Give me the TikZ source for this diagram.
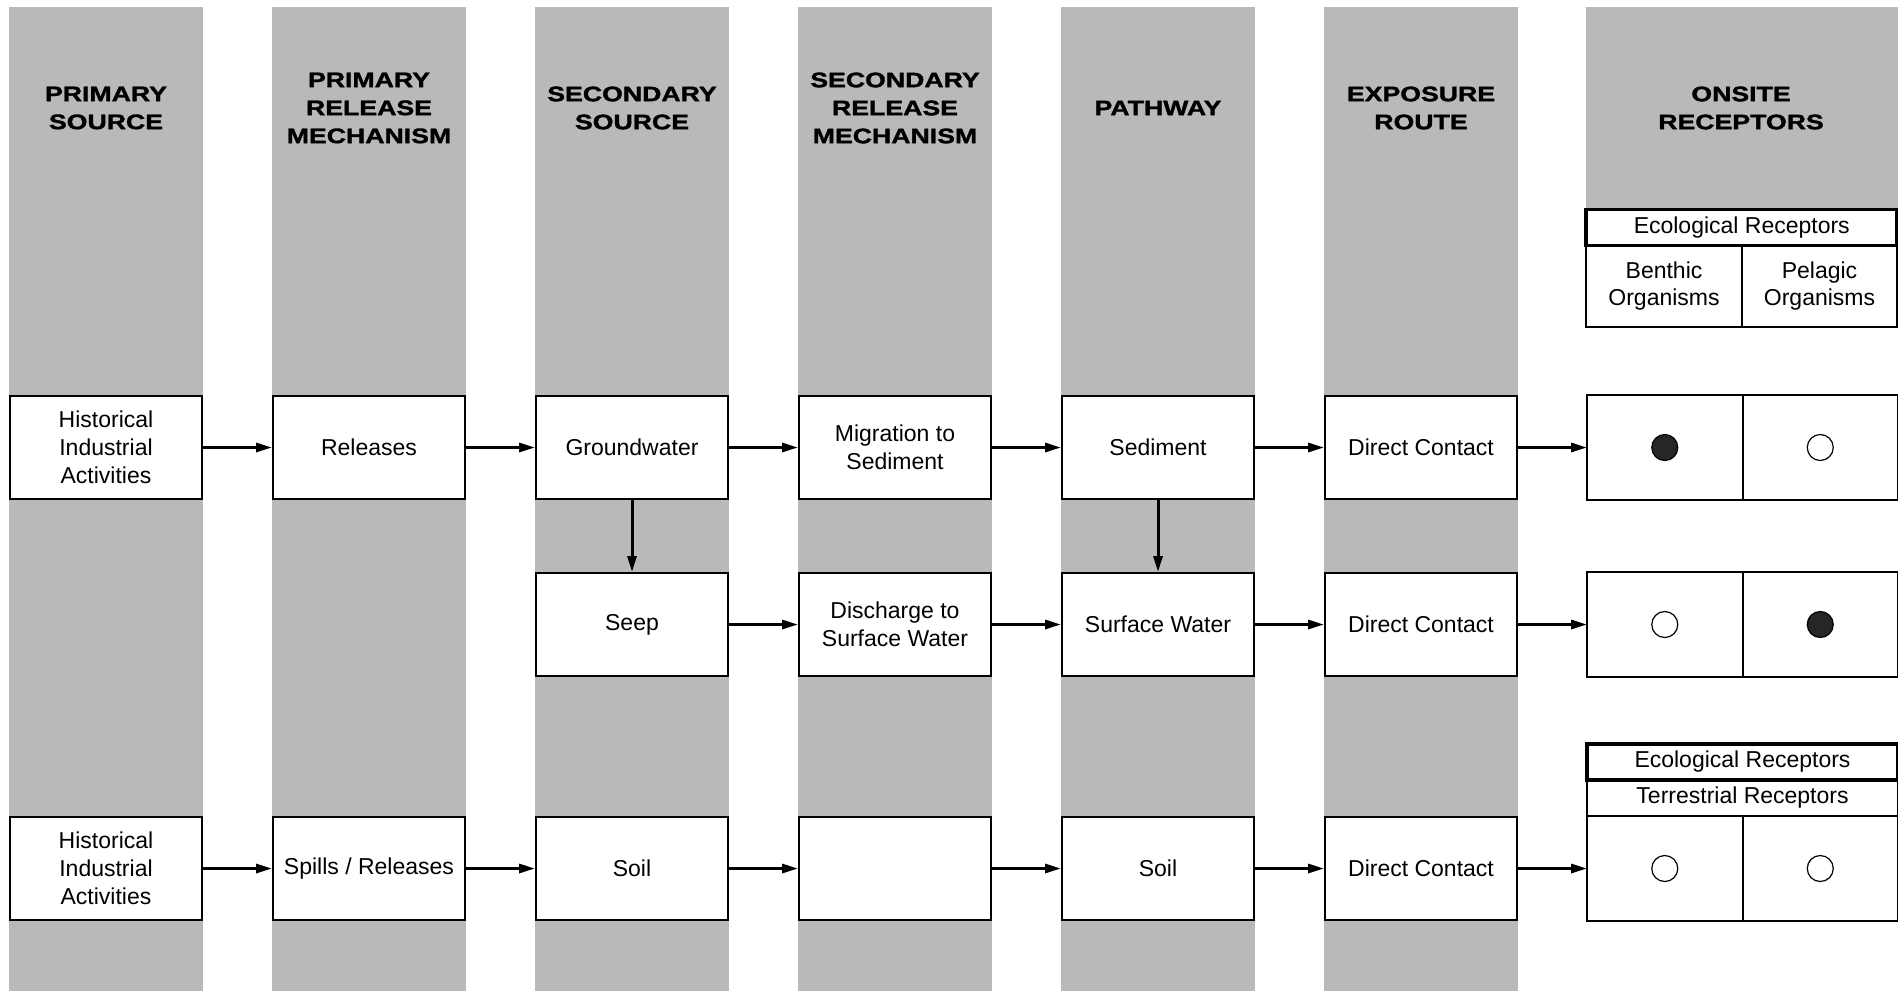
\documentclass[tikz,border=0pt]{standalone}
\usepackage{fontspec}
\setmainfont{Liberation Sans}
\newfontface\hdrface[FakeStretch=1.27, FakeBold=1.6]{Liberation Sans Bold}
\usetikzlibrary{arrows.meta, positioning}
\definecolor{colgrey}{HTML}{B9B9B9}

\begin{document}
\begin{tikzpicture}[
    x=0.5pt, y=-0.5pt,
    node distance=34.5pt,
    box/.style={draw, line width=1pt, fill=white, align=center, inner sep=1pt,
                minimum width=96pt, minimum height=51.5pt,
                font=\fontsize{11.5}{13.9}\selectfont},
    hdr/.style={align=center, font=\fontsize{10.5}{14}\hdrface},
    cell/.style={draw, line width=1pt, fill=white, outer sep=0pt, inner sep=0pt,
                 align=center, minimum width=77.75pt, minimum height=52.5pt,
                 font=\fontsize{11.5}{13.9}\selectfont},
    capbox/.style={draw, fill=white, outer sep=0pt, inner sep=0pt, anchor=south west,
                   minimum width=155.5pt, minimum height=18pt,
                   font=\fontsize{11.5}{13.9}\selectfont},
    dot/.style={circle, draw, line width=0.6pt, fill=white, minimum size=13pt, inner sep=0pt},
    hit/.style={dot, fill=black!85},
    flow/.style={-{Triangle[length=8pt, width=4.5pt]}, line width=1.5pt},
  ]
  \useasboundingbox (0,0) rectangle (1898,991);

  % --- grey column bands ---
  \foreach \cx in {9,272,535,798,1061,1324}
    \fill[colgrey] (\cx,7) rectangle ++(194,984);
  \fill[colgrey] (1586,7) rectangle (1898,209);

  % --- column headers ---
  \node[hdr] (hps)  at (106,108)  {PRIMARY\\SOURCE};
  \node[hdr] (hprm) at (369,108)  {PRIMARY\\RELEASE\\MECHANISM};
  \node[hdr] (hss)  at (632,108)  {SECONDARY\\SOURCE};
  \node[hdr] (hsrm) at (895,108)  {SECONDARY\\RELEASE\\MECHANISM};
  \node[hdr] (hpw)  at (1158,108) {PATHWAY};
  \node[hdr] (her)  at (1421,108) {EXPOSURE\\ROUTE};
  \node[hdr] (hor)  at (1741,108) {ONSITE\\RECEPTORS};

  % --- sediment / surface water chain ---
  \node[box] (hia1) at (106,447.5) {Historical\\Industrial\\Activities};
  \node[box, right=of hia1] (rel)  {Releases};
  \node[box, right=of rel]  (gw)   {Groundwater};
  \node[box, right=of gw]   (mig)  {Migration to\\Sediment};
  \node[box, right=of mig]  (sed)  {Sediment};
  \node[box, right=of sed]  (dc1)  {Direct Contact};
  \node[cell, right=of dc1] (rc1a) {};
  \node[cell, right=0pt of rc1a] (rc1b) {};

  \node[box, below=36pt of gw] (seep) {Seep};
  \node[box, right=of seep] (dis)  {Discharge to\\Surface Water};
  \node[box, right=of dis]  (sw)   {Surface Water};
  \node[box, right=of sw]   (dc2)  {Direct Contact};
  \node[cell, right=of dc2] (rc2a) {};
  \node[cell, right=0pt of rc2a] (rc2b) {};

  % --- soil chain ---
  \node[box] (hia2) at (106,868.5) {Historical\\Industrial\\Activities};
  \node[box, right=of hia2] (spill) {Spills / Releases};
  \node[box, right=of spill] (soil) {Soil};
  \node[box, right=of soil]  (blank) {};
  \node[box, right=of blank] (psoil) {Soil};
  \node[box, right=of psoil] (dc3)  {Direct Contact};
  \node[cell, right=of dc3] (rc3a) {};
  \node[cell, right=0pt of rc3a] (rc3b) {};

  % --- receptor tables ---
  \node[cell, minimum height=40.5pt] (bent) at (1664,286) {Benthic\\Organisms};
  \node[cell, minimum height=40.5pt, right=0pt of bent] (pel) {Pelagic\\Organisms};
  \node[capbox, line width=1.8pt] (eco1) at (bent.north west) {Ecological Receptors};

  \node[capbox, line width=1pt] (terr) at (rc3a.north west) {Terrestrial Receptors};
  \node[capbox, line width=1.8pt] (eco2) at (terr.north west) {Ecological Receptors};

  \node[hit] (d1a) at (rc1a.center) {};
  \node[dot] (d1b) at (rc1b.center) {};
  \node[dot] (d2a) at (rc2a.center) {};
  \node[hit] (d2b) at (rc2b.center) {};
  \node[dot] (d3a) at (rc3a.center) {};
  \node[dot] (d3b) at (rc3b.center) {};

  % --- connectors ---
  \draw[flow] (hia1) -- (rel);
  \draw[flow] (rel) -- (gw);
  \draw[flow] (gw) -- (mig);
  \draw[flow] (mig) -- (sed);
  \draw[flow] (sed) -- (dc1);
  \draw[flow] (dc1) -- (rc1a);
  \draw[flow] (gw) -- (seep);
  \draw[flow] (sed) -- (sw);
  \draw[flow] (seep) -- (dis);
  \draw[flow] (dis) -- (sw);
  \draw[flow] (sw) -- (dc2);
  \draw[flow] (dc2) -- (rc2a);
  \draw[flow] (hia2) -- (spill);
  \draw[flow] (spill) -- (soil);
  \draw[flow] (soil) -- (blank);
  \draw[flow] (blank) -- (psoil);
  \draw[flow] (psoil) -- (dc3);
  \draw[flow] (dc3) -- (rc3a);
\end{tikzpicture}
\end{document}
